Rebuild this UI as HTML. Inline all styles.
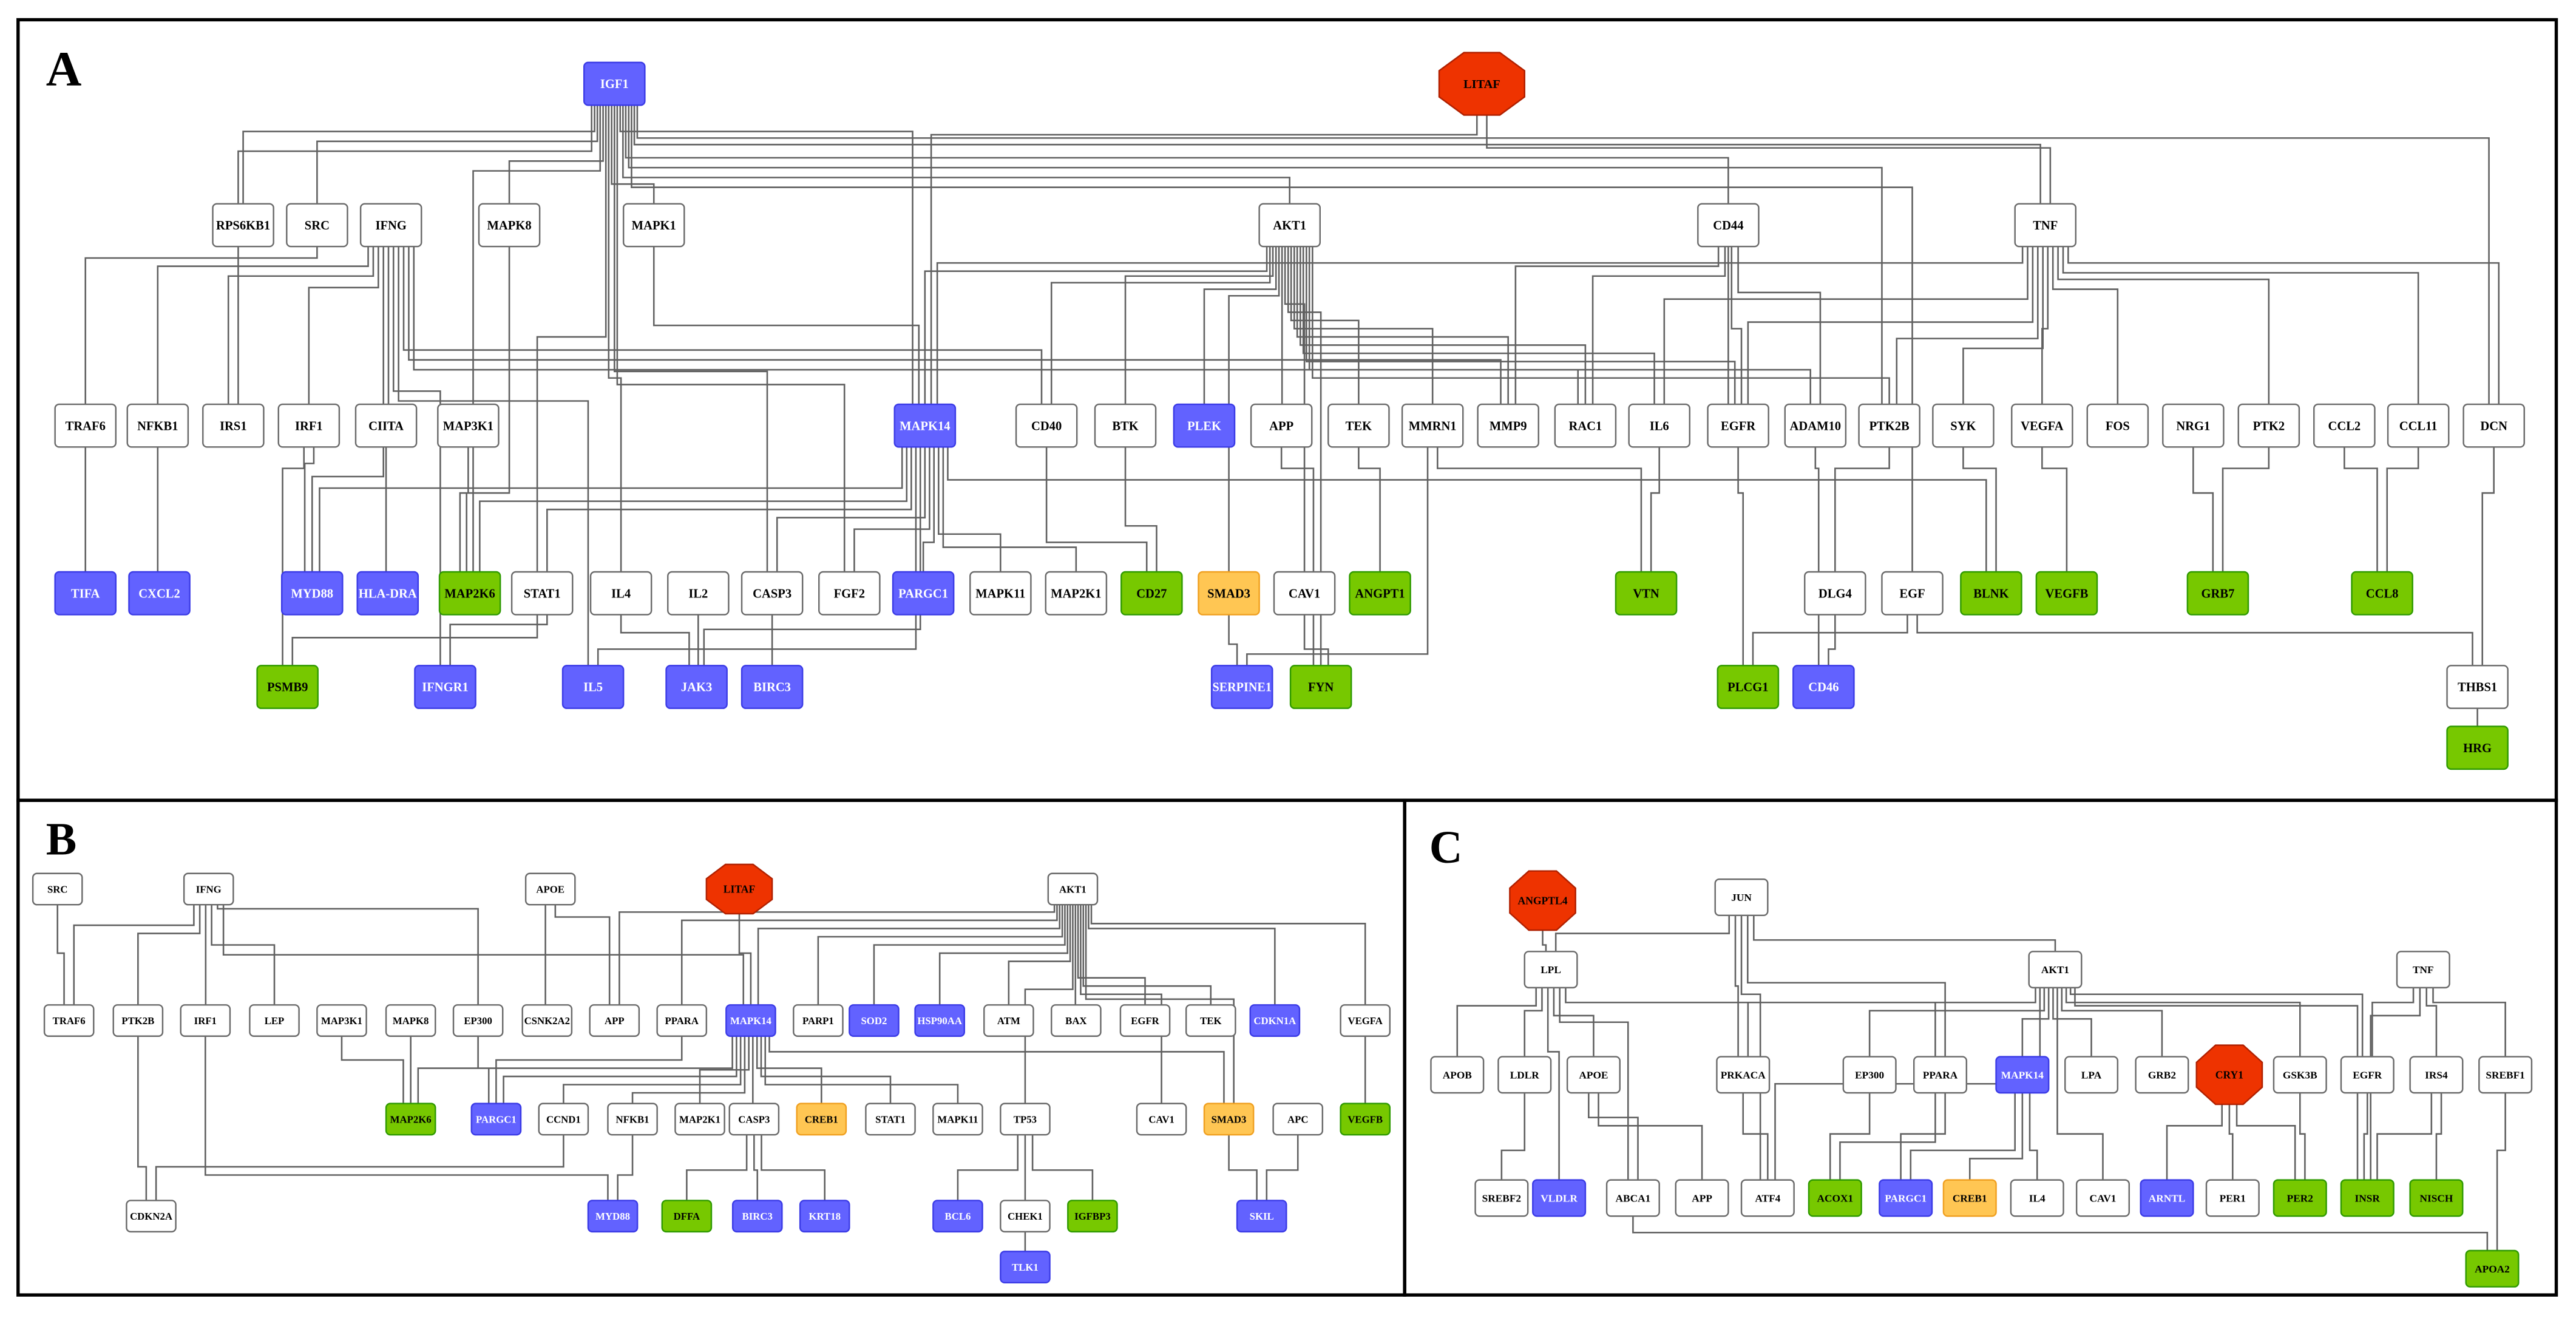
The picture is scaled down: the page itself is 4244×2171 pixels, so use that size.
<!DOCTYPE html>
<html><head><meta charset="utf-8">
<style>
html,body{margin:0;padding:0;background:#fff;}
svg{display:block;}
text{font-family:"Liberation Serif",serif;font-weight:bold;}
</style></head>
<body>
<svg id="s" xmlns="http://www.w3.org/2000/svg" width="4244" height="2171" viewBox="0 0 1568 802" preserveAspectRatio="none">
<rect x="0" y="0" width="1568" height="802" fill="#fff"/>
<g id="edges" fill="none" stroke="#606060" stroke-width="0.95"></g>
<g id="nodes"></g>
<rect x="11" y="12" width="1545" height="475" fill="none" stroke="#000" stroke-width="2"/>
<rect x="11" y="487" width="844" height="301" fill="none" stroke="#000" stroke-width="2"/>
<rect x="855" y="487" width="701" height="301" fill="none" stroke="#000" stroke-width="2"/>
<text x="28" y="52" font-size="30">A</text>
<text x="28" y="520" font-size="28">B</text>
<text x="870" y="525" font-size="28">C</text>
</svg>
<script>
var NS="http://www.w3.org/2000/svg";
var COL={w:["#fff","#6a6a6a","#000"],b:["#6262ff","#3b3be6","#fff"],g:["#77c800","#2f9a00","#000"],o:["#ffc653","#f0a020","#000"],r:["#ee3300","#b02000","#000"]};
var N={};
function node(p,name,x,y,c,w,h,fs){N[p+name]={x:x,y:y,w:w,h:h,c:c||'w',name:name,fs:fs,out:[],inn:[]};}
var A=[["IGF1",374,51,'b'],["LITAF",902,51,'r'],
["RPS6KB1",148,137],["SRC",193,137],["IFNG",238,137],["MAPK8",310,137],["MAPK1",398,137],["AKT1",785,137],["CD44",1052,137],["TNF",1245,137],
["TRAF6",52,259],["NFKB1",96,259],["IRS1",142,259],["IRF1",188,259],["CIITA",235,259],["MAP3K1",285,259],["MAPK14",563,259,'b'],["CD40",637,259],["BTK",685,259],["PLEK",733,259,'b'],["APP",780,259],["TEK",827,259],["MMRN1",872,259],["MMP9",918,259],["RAC1",965,259],["IL6",1010,259],["EGFR",1058,259],["ADAM10",1105,259],["PTK2B",1150,259],["SYK",1195,259],["VEGFA",1243,259],["FOS",1289,259],["NRG1",1335,259],["PTK2",1381,259],["CCL2",1427,259],["CCL11",1472,259],["DCN",1518,259],
["TIFA",52,361,'b'],["CXCL2",97,361,'b'],["MYD88",190,361,'b'],["HLA-DRA",236,361,'b'],["MAP2K6",286,361,'g'],["STAT1",330,361],["IL4",378,361],["IL2",425,361],["CASP3",470,361],["FGF2",517,361],["PARGC1",562,361,'b'],["MAPK11",609,361],["MAP2K1",655,361],["CD27",701,361,'g'],["SMAD3",748,361,'o'],["CAV1",794,361],["ANGPT1",840,361,'g'],["VTN",1002,361,'g'],["DLG4",1117,361],["EGF",1164,361],["BLNK",1212,361,'g'],["VEGFB",1258,361,'g'],["GRB7",1350,361,'g'],["CCL8",1450,361,'g'],
["PSMB9",175,418,'g'],["IFNGR1",271,418,'b'],["IL5",361,418,'b'],["JAK3",424,418,'b'],["BIRC3",470,418,'b'],["SERPINE1",756,418,'b'],["FYN",804,418,'g'],["PLCG1",1064,418,'g'],["CD46",1110,418,'b'],["THBS1",1508,418],["HRG",1508,455,'g']];
A.forEach(function(a){var r=a[3]=='r';node("A",a[0],a[1],a[2],a[3],r?52:37,r?38:26,r?7.5:7.6);});
var B=[["SRC",35,541],["IFNG",127,541],["APOE",335,541],["LITAF",450,541,'r'],["AKT1",653,541],
["TRAF6",42,621],["PTK2B",84,621],["IRF1",125,621],["LEP",167,621],["MAP3K1",208,621],["MAPK8",250,621],["EP300",291,621],["CSNK2A2",333,621],["APP",374,621],["PPARA",415,621],["MAPK14",457,621,'b'],["PARP1",498,621],["SOD2",532,621,'b'],["HSP90AA",572,621,'b'],["ATM",614,621],["BAX",655,621],["EGFR",697,621],["TEK",737,621],["CDKN1A",776,621,'b'],["VEGFA",831,621],
["MAP2K6",250,681,'g'],["PARGC1",302,681,'b'],["CCND1",343,681],["NFKB1",385,681],["MAP2K1",426,681],["CASP3",459,681],["CREB1",500,681,'o'],["STAT1",542,681],["MAPK11",583,681],["TP53",624,681],["CAV1",707,681],["SMAD3",748,681,'o'],["APC",790,681],["VEGFB",831,681,'g'],
["CDKN2A",92,740],["MYD88",373,740,'b'],["DFFA",418,740,'g'],["BIRC3",461,740,'b'],["KRT18",502,740,'b'],["BCL6",583,740,'b'],["CHEK1",624,740],["IGFBP3",665,740,'g'],["SKIL",768,740,'b'],["TLK1",624,771,'b']];
B.forEach(function(a){var r=a[3]=='r';node("B",a[0],a[1],a[2],a[3],r?40:30,r?30:19,r?6.5:6.2);});
var C=[["ANGPTL4",939,548,'r'],["JUN",1060,546],["LPL",944,590],["AKT1",1251,590],["TNF",1475,590],
["APOB",887,654],["LDLR",928,654],["APOE",970,654],["PRKACA",1061,654],["EP300",1138,654],["PPARA",1181,654],["MAPK14",1231,654,'b'],["LPA",1273,654],["GRB2",1316,654],["CRY1",1357,654,'r'],["GSK3B",1400,654],["EGFR",1441,654],["IRS4",1483,654],["SREBF1",1525,654],
["SREBF2",914,729],["VLDLR",949,729,'b'],["ABCA1",994,729],["APP",1036,729],["ATF4",1076,729],["ACOX1",1117,729,'g'],["PARGC1",1160,729,'b'],["CREB1",1199,729,'o'],["IL4",1240,729],["CAV1",1280,729],["ARNTL",1319,729,'b'],["PER1",1359,729],["PER2",1400,729,'g'],["INSR",1441,729,'g'],["NISCH",1483,729,'g'],["APOA2",1517,772,'g']];
C.forEach(function(a){var r=a[3]=='r';node("C",a[0],a[1],a[2],a[3],r?40:32,r?36:22,r?6.5:6.4);});

var E=[];
function e(p,list){list.forEach(function(l){E.push({s:N[p+l[0]],t:N[p+l[1]],ch:l[2]});});}
e("A",[["IGF1","RPS6KB1",80],["IGF1","SRC",86],["IGF1","IRS1",92],["IGF1","MAPK8",98],["IGF1","MAP2K6",104],["IGF1","MAPK1",112],["IGF1","IL4",230],["IGF1","CASP3",226],["IGF1","FGF2",234],["IGF1","STAT1",205],
["IGF1","MAPK14",80],["IGF1","DCN",84],["IGF1","TNF",88],["IGF1","EGFR",96],["IGF1","PTK2B",102],["IGF1","AKT1",108],["IGF1","EGF",114],
["LITAF","MAPK14",82],["LITAF","TNF",90],
["SRC","TRAF6",157],["IFNG","NFKB1",162],["IFNG","IRS1",168],["IFNG","IRF1",175],["IFNG","CIITA",200],["IFNG","MYD88",290],["IFNG","CD40",213],["IFNG","MMP9",219],["IFNG","RAC1",225],["IFNG","IFNGR1",238],["IFNG","IL5",244],
["MAPK8","MAP2K6",300],["MAPK1","MAPK14",118],
["TRAF6","TIFA",300],["NFKB1","CXCL2",282],["IRF1","MYD88",282],["IRF1","PSMB9",285],["CIITA","HLA-DRA",300],["MAP3K1","MAP2K6",300],
["MAPK14","MYD88",297],["MAPK14","MAP2K6",305],["MAPK14","STAT1",310],["MAPK14","CASP3",315],["MAPK14","FGF2",322],["MAPK14","PARGC1",330],["MAPK14","MAPK11",325],["MAPK14","MAP2K1",333],["MAPK14","JAK3",383],["MAPK14","BLNK",292],["MAPK14","IL5",395],
["AKT1","MAPK14",165],["AKT1","CD40",172],["AKT1","BTK",168],["AKT1","PLEK",176],["AKT1","APP",200],["AKT1","TEK",195],["AKT1","MMRN1",200],["AKT1","MMP9",205],["AKT1","RAC1",210],["AKT1","IL6",215],["AKT1","EGFR",220],["AKT1","ADAM10",225],["AKT1","PTK2B",230],["AKT1","SMAD3",180],["AKT1","CAV1",185],["AKT1","FYN",190],
["CD44","MMP9",162],["CD44","RAC1",168],["CD44","EGFR",200],["CD44","ADAM10",178],
["TNF","IL6",182],["TNF","EGFR",196],["TNF","PTK2B",206],["TNF","SYK",212],["TNF","VEGFA",200],["TNF","FOS",176],["TNF","PTK2",170],["TNF","CCL11",166],["TNF","DCN",160],["TNF","MAPK14",160],
["BTK","CD27",320],["CD40","CD27",330],["APP","FYN",285],["TEK","ANGPT1",285],["MMRN1","VTN",285],["IL6","VTN",300],["SYK","BLNK",285],["VEGFA","VEGFB",285],["NRG1","GRB7",300],["PTK2","GRB7",285],["CCL2","CCL8",285],["CCL11","CCL8",285],["DCN","THBS1",300],["EGFR","PLCG1",300],["ADAM10","CD46",285],["PTK2B","DLG4",285],["EGF","PLCG1",385],["EGF","THBS1",385],["THBS1","HRG",440],
["STAT1","PSMB9",388],["STAT1","IFNGR1",380],["IL4","JAK3",385],["IL2","JAK3",390],["CASP3","BIRC3",395],["SMAD3","SERPINE1",392],["CAV1","FYN",395],["MMRN1","SERPINE1",398],["DLG4","CD46",395]]);
e("B",[["SRC","TRAF6",580],["IFNG","TRAF6",563],["IFNG","PTK2B",568],["IFNG","IRF1",580],["IFNG","LEP",575],["IFNG","EP300",553],["IFNG","MAPK14",546],["APOE","CSNK2A2",580],["APOE","APP",558],["AKT1","APP",555],["AKT1","PPARA",560],["LITAF","MAPK14",580],
["AKT1","MAPK14",565],["AKT1","PARP1",570],["AKT1","SOD2",575],["AKT1","HSP90AA",580],["AKT1","ATM",585],["AKT1","BAX",590],["AKT1","EGFR",595],["AKT1","TEK",600],["AKT1","CDKN1A",565],["AKT1","VEGFA",562],["AKT1","CAV1",605],["AKT1","SMAD3",608],["AKT1","TP53",602],
["VEGFA","VEGFB",650],["MAP3K1","MAP2K6",645],["MAPK8","MAP2K6",650],["EP300","PARGC1",650],["PPARA","PARGC1",645],["MAPK14","MAP2K6",650],["MAPK14","PARGC1",655],["MAPK14","CCND1",660],["MAPK14","NFKB1",665],["MAPK14","MAP2K1",670],["MAPK14","CASP3",660],["MAPK14","CREB1",650],["MAPK14","STAT1",655],["MAPK14","MAPK11",660],["MAPK14","SMAD3",640],
["CCND1","CDKN2A",710],["PTK2B","CDKN2A",710],["IRF1","MYD88",715],["NFKB1","MYD88",715],["CASP3","DFFA",712],["CASP3","BIRC3",712],["CASP3","KRT18",712],["TP53","BCL6",712],["TP53","CHEK1",712],["TP53","IGFBP3",712],["CHEK1","TLK1",760],["SMAD3","SKIL",712],["APC","SKIL",712]]);
e("C",[["ANGPTL4","LPL",575],["JUN","LPL",568],["JUN","PRKACA",600],["JUN","AKT1",572],["JUN","PPARA",598],["JUN","ATF4",605],
["LPL","APOB",612],["LPL","LDLR",615],["LPL","VLDLR",640],["LPL","APOE",618],["LPL","PPARA",610],["LPL","ABCA1",622],
["AKT1","PRKACA",610],["AKT1","EP300",615],["AKT1","MAPK14",620],["AKT1","LPA",620],["AKT1","GRB2",615],["AKT1","GSK3B",610],["AKT1","EGFR",605],["AKT1","INSR",612],["AKT1","CAV1",690],["AKT1","ATF4",600],
["TNF","EGFR",610],["TNF","IRS4",612],["TNF","SREBF1",610],["TNF","INSR",618],
["LDLR","SREBF2",700],["APOE","ABCA1",680],["APOE","APP",685],["PRKACA","ATF4",690],["EP300","ACOX1",690],["PPARA","PARGC1",690],["PPARA","ACOX1",695],["MAPK14","PARGC1",700],["MAPK14","CREB1",705],["MAPK14","IL4",700],
["CRY1","ARNTL",685],["CRY1","PER1",690],["CRY1","PER2",685],["GSK3B","PER2",690],["EGFR","INSR",690],["IRS4","INSR",690],["IRS4","NISCH",690],["SREBF1","APOA2",700],["ABCA1","APOA2",750]]);

E.forEach(function(ed){if(ed.s&&ed.t){ed.s.out.push(ed);ed.t.inn.push(ed);}});
function spread(n,arr,key){arr.sort(function(a,b){return a[key].x-b[key].x;});var k=arr.length;var span=Math.min(n.w*0.75,k*3);
 arr.forEach(function(ed,i){var v=k==1?n.x:n.x-span/2+span*i/(k-1);if(key=='t')ed.sx=v;else ed.tx=v;});}
for(var k in N){var n=N[k];spread(n,n.out,'t');spread(n,n.inn,'s');}
var g=document.getElementById('edges'),d="";
E.forEach(function(ed){if(!ed.s||!ed.t)return;var s=ed.s,t=ed.t;var sy=s.y+s.h/2,ty=t.y-t.h/2;var ch=ed.ch;
 if(ty<=sy)return;
 if(ch<=sy+2||ch>=ty-2)ch=(sy+ty)/2;
 if(Math.abs(ed.sx-ed.tx)<1.5)d+="M"+ed.sx+" "+sy+"V"+ty;
 else d+="M"+ed.sx.toFixed(1)+" "+sy+"V"+ch+"H"+ed.tx.toFixed(1)+"V"+ty;});
var p=document.createElementNS(NS,'path');p.setAttribute('d',d);g.appendChild(p);
var ng=document.getElementById('nodes');
for(var k in N){var n=N[k],c=COL[n.c],el;
 if(n.c=='r'){var hw=n.w/2,hh=n.h/2,a=n.w*0.29,b=n.h*0.29;
  var pts=[[-hw+a,-hh],[hw-a,-hh],[hw,-hh+b],[hw,hh-b],[hw-a,hh],[-hw+a,hh],[-hw,hh-b],[-hw,-hh+b]].map(function(q){return (n.x+q[0])+","+(n.y+q[1]);}).join(" ");
  el=document.createElementNS(NS,'polygon');el.setAttribute('points',pts);}
 else{el=document.createElementNS(NS,'rect');el.setAttribute('x',n.x-n.w/2);el.setAttribute('y',n.y-n.h/2);el.setAttribute('width',n.w);el.setAttribute('height',n.h);el.setAttribute('rx',2.5);}
 el.setAttribute('fill',c[0]);el.setAttribute('stroke',c[1]);el.setAttribute('stroke-width',0.9);ng.appendChild(el);
 var t=document.createElementNS(NS,'text');t.setAttribute('x',n.x);t.setAttribute('y',n.y+n.fs*0.35);t.setAttribute('text-anchor','middle');t.setAttribute('font-size',n.fs);t.setAttribute('fill',c[2]);
 t.textContent=n.name;var maxw=n.w-1;ng.appendChild(t);
 try{var bw=t.getComputedTextLength();if(bw>maxw){t.setAttribute('textLength',maxw);t.setAttribute('lengthAdjust','spacingAndGlyphs');}}catch(x){}
}
</script>
</body></html>
